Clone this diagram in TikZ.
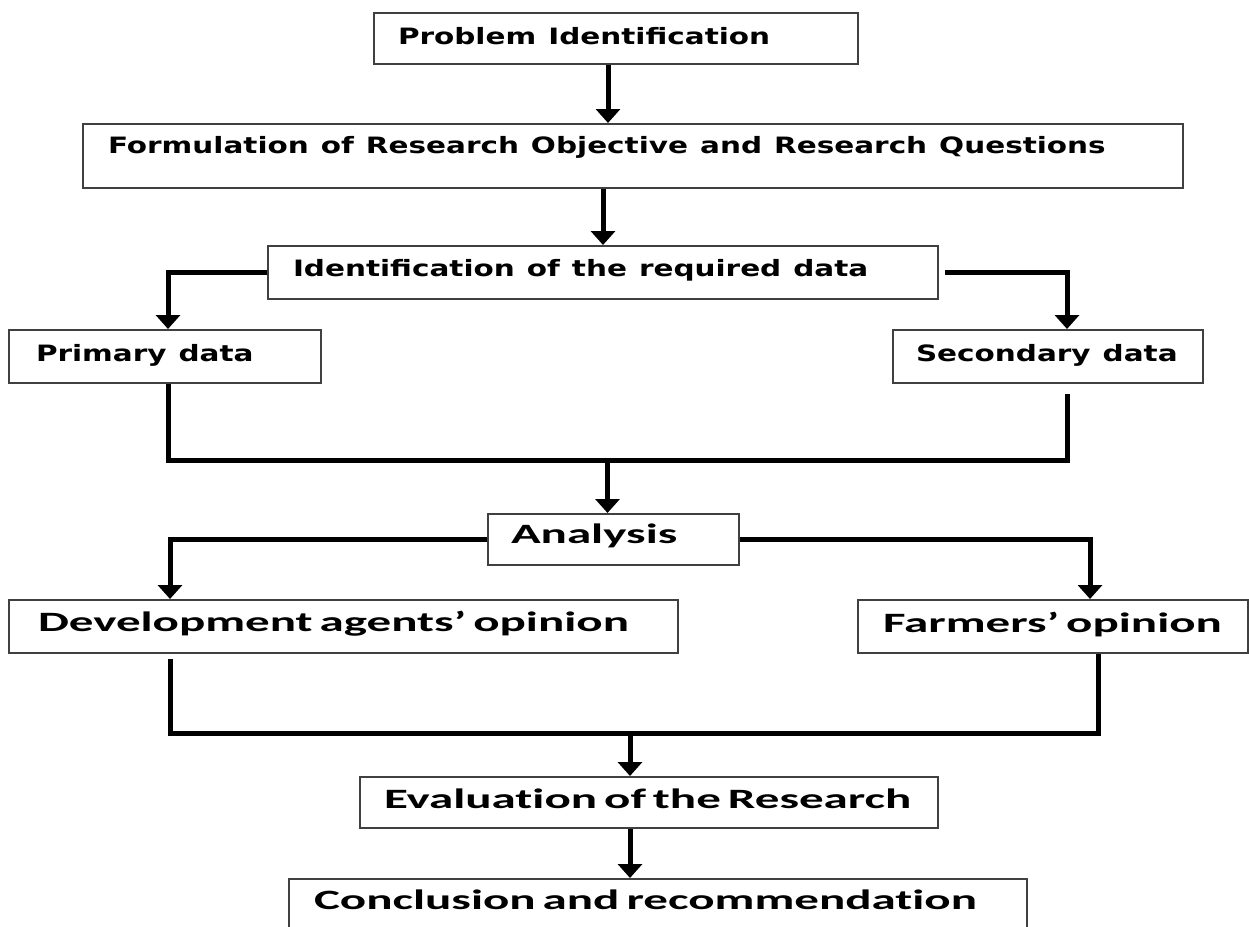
\documentclass[tikz,border=0pt]{standalone}
\usepackage{fontspec}
\usetikzlibrary{arrows.meta}
\newfontfamily\verdfont{DejaVu Sans Bold}[FakeStretch=1.31]
\newfontfamily\califont{Carlito Bold}[FakeStretch=1.75, Ligatures=NoCommon]

\tikzset{
    stage/.style={draw=black!75, line width=2pt, inner ysep=0pt, align=flush left, anchor=north west},
    upper/.style={stage, font={\verdfont\fontsize{22.5}{26}\selectfont\spaceskip=12pt\hyphenpenalty=10000}},
    lower/.style={stage, font={\califont\fontsize{28}{32}\selectfont\spaceskip=7pt\hyphenpenalty=10000}},
    flow/.style={line width=5pt, -{Triangle[width=24pt,length=14pt]}},
    link/.style={line width=5pt},
}

\begin{document}
\begin{tikzpicture}[x=1pt, y=-1pt]
    \useasboundingbox (0,0) rectangle (1249,926);
    \clip (0,0) rectangle (1249,926);

    % Stages up to the data
    \node[upper, inner xsep=24pt, text width=436pt, text height=31pt, text depth=20pt] (prob) at (373,12) {Problem Identification};
    \node[upper, inner xsep=25pt, text width=1050pt, text height=29pt, text depth=35pt] (form) at (82,123) {Formulation of Research Objective and Research Questions};
    \node[upper, inner xsep=25pt, text width=620pt, text height=30pt, text depth=23pt] (ident) at (267,245) {Identification of the required data};
    \node[upper, inner xsep=27pt, text width=258pt, text height=31pt, text depth=22pt] (prim) at (8,329) {Primary data};
    \node[upper, inner xsep=23pt, text width=264pt, text height=31pt, text depth=22pt] (sec) at (892,329) {Secondary data};

    % Analysis and the rest
    \node[lower, inner xsep=23pt, text width=205pt, text height=29pt, text depth=22pt] (anal) at (487,513) {Analysis};
    \node[lower, inner xsep=29pt, text width=611pt, text height=31pt, text depth=22pt] (dev) at (8,599) {Development agents’ opinion};
    \node[lower, inner xsep=25pt, text width=340pt, text height=32pt, text depth=21pt] (farm) at (857,599) {Farmers’ opinion};
    \node[lower, inner xsep=24pt, text width=530pt, text height=31pt, text depth=20pt] (eval) at (359,776) {Evaluation of the Research};
    \node[lower, inner xsep=25pt, text width=688pt, text height=30pt, text depth=52pt] (conc) at (288,878) {Conclusion and recommendation};

    \coordinate (dataJoin) at ([xshift=-6pt,yshift=53pt]anal.north);
    \coordinate (opinionJoin) at ([xshift=271pt,yshift=43pt]eval.north west);

    % Arrows
    \draw[flow] ([xshift=-8pt]prob.south) -- ([xshift=-8pt]prob.south |- form.north);
    \draw[flow] (form.south -| ident.north) -- (ident.north);
    \draw[flow] (ident.west) -| ([xshift=160pt]prim.north west);
    \draw[flow] ([xshift=6pt]ident.east) -| ([xshift=175pt]sec.north west);
    \draw[link] ([xshift=160pt]prim.south west) |- (dataJoin) -| ([xshift=175pt,yshift=-10pt]sec.south west);
    \draw[flow] (dataJoin) -- (dataJoin |- anal.north);

    \draw[flow] (anal.west) -| ([xshift=162pt]dev.north west);
    \draw[flow] (anal.east) -| ([xshift=233pt]farm.north west);
    \draw[link] ([xshift=162pt,yshift=-5pt]dev.south west) |- (opinionJoin) -| ([xshift=241pt]farm.south west);
    \draw[flow] (opinionJoin) -- ([xshift=271pt]eval.north west);
    \draw[flow] ([xshift=271pt]eval.south west) -- ([xshift=271pt]eval.south west |- conc.north);
\end{tikzpicture}
\end{document}
